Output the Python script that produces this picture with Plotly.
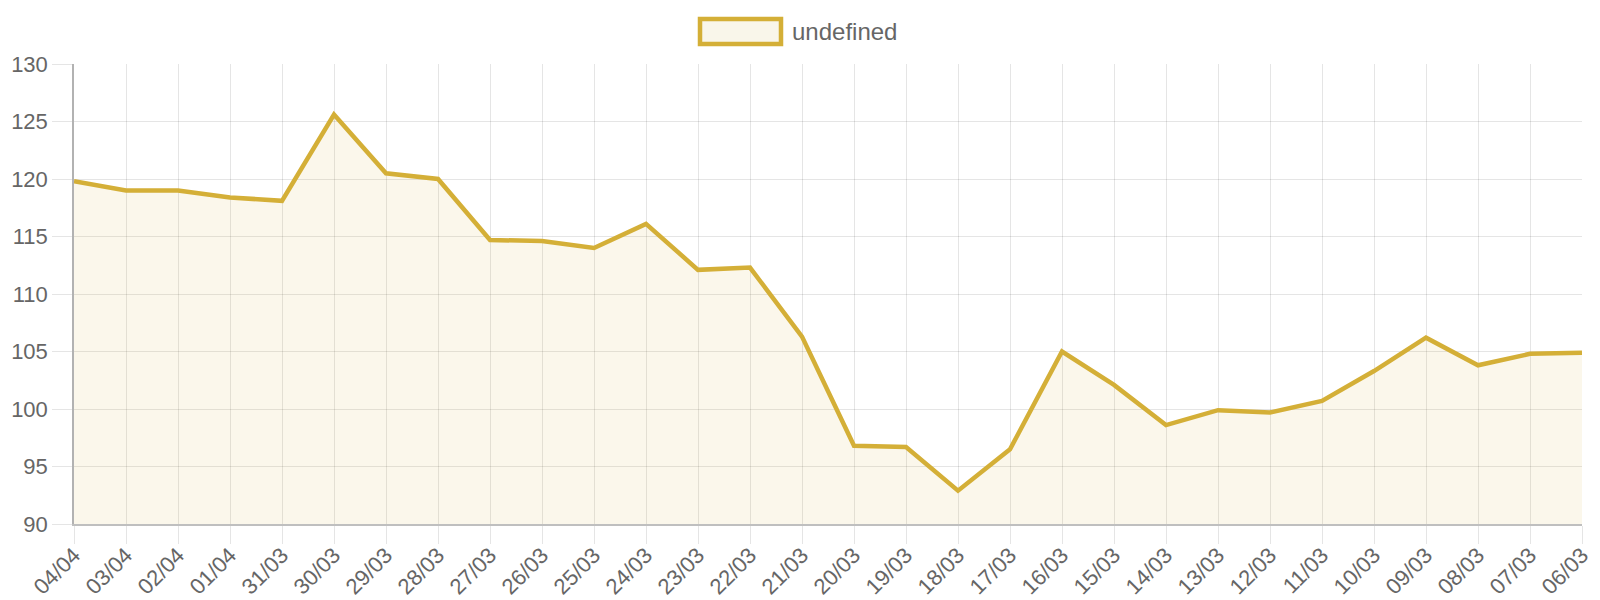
import plotly.graph_objects as go

dates = ["04/04", "03/04", "02/04", "01/04", "31/03", "30/03", "29/03", "28/03", "27/03", "26/03",
         "25/03", "24/03", "23/03", "22/03", "21/03", "20/03", "19/03", "18/03", "17/03", "16/03",
         "15/03", "14/03", "13/03", "12/03", "11/03", "10/03", "09/03", "08/03", "07/03", "06/03"]
values = [119.8, 119.0, 119.0, 118.4, 118.1, 125.6, 120.5, 120.0, 114.7, 114.6,
          114.0, 116.1, 112.1, 112.3, 106.3, 96.8, 96.7, 92.9, 96.5, 105.0,
          102.1, 98.6, 99.9, 99.7, 100.7, 103.3, 106.2, 103.8, 104.8, 104.9]
y_ticks = [90, 95, 100, 105, 110, 115, 120, 125, 130]
series_name = "undefined"

LINE = "#D4AF37"
FILL = "rgba(212,175,55,0.1)"
GRID = "rgba(0,0,0,0.1)"
TXT = "#666666"
FONT = "Liberation Sans, Arial, sans-serif"

fig = go.Figure()
fig.add_trace(go.Scatter(
    x=dates, y=values, mode="lines", name=series_name,
    line=dict(color=LINE, width=4.5), fill="tozeroy", fillcolor=FILL,
    showlegend=False,
))

L, R, T, B = 74, 18, 64, 76
W, H = 1600, 600
pw, ph = W - L - R, H - T - B

def px_x(x):
    return (x - L) / pw

def px_y(y):
    return (H - B - y) / ph

# custom legend box (Chart.js style)
fig.add_shape(type="rect", xref="paper", yref="paper",
              x0=px_x(700), x1=px_x(781), y0=px_y(44), y1=px_y(19),
              line=dict(color=LINE, width=4.5), fillcolor="#F9F6EA")
fig.add_annotation(text=series_name, xref="paper", yref="paper",
                   x=px_x(790), y=px_y(32), xanchor="left", yanchor="middle",
                   showarrow=False, font=dict(family=FONT, size=24, color=TXT))

fig.update_layout(
    width=W, height=H,
    margin=dict(l=L, r=R, t=T, b=B, autoexpand=False),
    plot_bgcolor="white", paper_bgcolor="white",
    font=dict(family=FONT, color=TXT, size=22),
)
fig.update_xaxes(
    type="category", range=[0, len(dates) - 1], automargin=False,
    showgrid=True, gridcolor=GRID, gridwidth=1,
    ticks="outside", ticklen=18, tickcolor=GRID, tickwidth=1,
    tickangle=-45, tickfont=dict(size=22, color=TXT), ticklabelstandoff=-10,
    showline=True, linecolor="rgba(0,0,0,0.25)", linewidth=1.5,
    zeroline=False,
)
fig.update_yaxes(
    range=[90, 130], tickvals=y_ticks, automargin=False,
    showgrid=True, gridcolor=GRID, gridwidth=1,
    ticks="outside", ticklen=20, tickcolor=GRID, tickwidth=1,
    tickfont=dict(size=22, color=TXT),
    showline=True, linecolor="rgba(0,0,0,0.3)", linewidth=1.5,
    zeroline=False,
)

fig.write_html("out.html", config={"displayModeBar": False},
               post_script="document.body.style.margin='0';")
